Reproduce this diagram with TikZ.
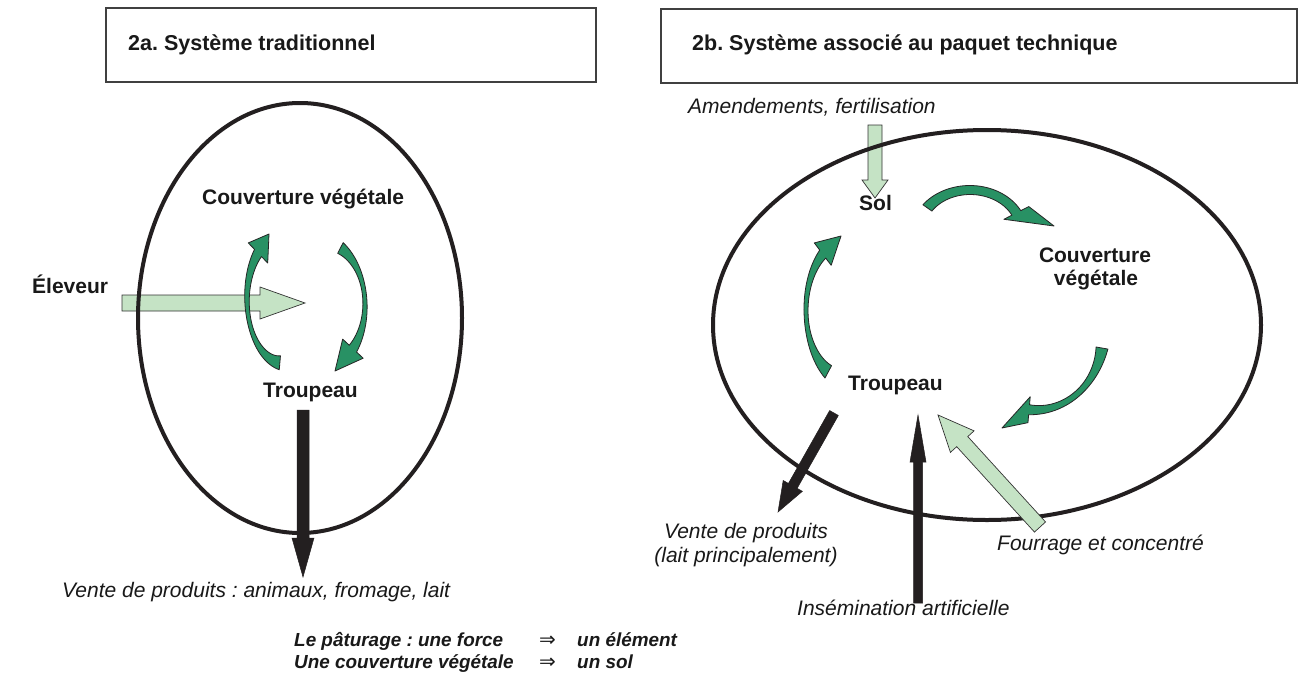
\documentclass[tikz,border=0pt]{standalone}
\usepackage{fontspec}
\setmainfont{Liberation Sans}
\newfontfamily\dejavu{DejaVu Sans}
\usetikzlibrary{calc}
\frenchspacing
\definecolor{lgreen}{RGB}{197,227,197}
\definecolor{mgreen}{RGB}{40,145,100}
\definecolor{ink}{RGB}{35,31,32}
\def\gcx{0}\def\gcy{0}\def\grx{1}\def\gry{1}\def\gTz{0}\def\gTo{90}
\def\gwt{10}\def\gwm{3}\def\gwh{7}\def\ghw{10}
% straight block arrow: #1 style, #2 start, #3 tip, #4 shaft half width, #5 head half width, #6 head length
\newcommand\blockarrow[6][]{%
  \coordinate (ba-h) at ($(#3)!#6!(#2)$);
  \filldraw[#1] ($(#2)!#4!90:(#3)$) -- ($(ba-h)!#4!90:(#3)$) -- ($(ba-h)!#5!90:(#3)$) -- (#3)
    -- ($(ba-h)!#5!-90:(#3)$) -- ($(ba-h)!#4!-90:(#3)$) -- ($(#2)!#4!-90:(#3)$) -- cycle;}
% curved band arrow along an elliptic arc, tip at named coordinate #1
\newcommand\curvearrow[1]{%
  \filldraw[garrow] plot[domain=\gTz:\gTo,samples=40] ({\gcx+(\grx+0.5*gw(\x))*cos(\x)},{\gcy+(\gry+0.5*gw(\x))*sin(\x)})
   -- ({\gcx+(\grx+\ghw)*cos(\gTo)},{\gcy+(\gry+\ghw)*sin(\gTo)})
   -- (#1)
   -- ({\gcx+(\grx-\ghw)*cos(\gTo)},{\gcy+(\gry-\ghw)*sin(\gTo)})
   -- plot[domain=\gTo:\gTz,samples=40] ({\gcx+(\grx-0.5*gw(\x))*cos(\x)},{\gcy+(\gry-0.5*gw(\x))*sin(\x)})
   -- cycle;}
\begin{document}
\begin{tikzpicture}[x=1pt,y=-1pt,
  declare function={gs(\t)=(\t-\gTz)/(\gTo-\gTz);
    gw(\t)=\gwm+(\gwt-\gwm)*max(1-2*gs(\t),0)*max(1-2*gs(\t),0)+(\gwh-\gwm)*max(2*gs(\t)-1,0)*max(2*gs(\t)-1,0);},
  boxline/.style={draw=black!75,line width=1.2pt},
  ellipseline/.style={draw=ink,line width=4pt},
  lightarrow/.style={fill=lgreen,draw=black!80,line width=0.7pt,line join=miter},
  blackarrow/.style={fill=ink,draw=ink,line width=0.5pt,line join=miter},
  garrow/.style={fill=mgreen,draw=black!85,line width=0.8pt,line join=round},
  titlefont/.style={inner sep=0pt,anchor=base west,font=\fontsize{21.5}{25}\selectfont\bfseries,text=black!90},
  blab/.style={inner sep=0pt,anchor=base west,font=\fontsize{21}{25}\selectfont\bfseries,text=black!90},
  ilab/.style={inner sep=0pt,anchor=base west,font=\fontsize{21}{25}\selectfont\itshape,text=black!90},
  bilab/.style={inner sep=0pt,anchor=base west,font=\fontsize{18.9}{22}\selectfont\bfseries\itshape,text=black!90},
  implies/.style={inner sep=0pt,anchor=base west,font=\dejavu\fontsize{20}{22}\selectfont,text=black!90},
]
\useasboundingbox (0,0) rectangle (1298,688);
\fill[white] (0,0) rectangle (1298,688);

% ---- title boxes
\draw[boxline] (106,8) rectangle (596,82);
\draw[boxline] (661,9) rectangle (1297,83);
\node[titlefont] (t2a) at (128,50) {2a. Système traditionnel};
\node[titlefont] (t2b) at (692,50) {2b. Système associé au paquet technique};

% ---- left system
\coordinate (elS) at (122,303);
\coordinate (elT) at (305,303);
\blockarrow[lightarrow]{elS}{elT}{8pt}{16pt}{45pt}
\draw[ellipseline] (300,318) ellipse [x radius=162pt, y radius=215pt];
\coordinate (vlS) at (303,410);
\coordinate (vlT) at (303,577);
\blockarrow[blackarrow]{vlS}{vlT}{6pt}{11pt}{39pt}

% green arc, left (upwards)
\coordinate (tipA) at (269,234);
\def\gcx{283}\def\gcy{299}\def\grx{36}\def\gry{64}\def\gTz{95}\def\gTo{226}
\def\gwt{14}\def\gwm{4}\def\gwh{10}\def\ghw{14}
\curvearrow{tipA}
% green arc, right (downwards)
\coordinate (tipB) at (335,371);
\def\gcx{320}\def\gcy{305}\def\grx{45}\def\gry{64}\def\gTz{-63}\def\gTo{43}
\def\gwt{12}\def\gwm{4}\def\gwh{10}\def\ghw{14}
\curvearrow{tipB}

\node[blab] (couvL) at (202,204) {Couverture végétale};
\node[blab] (troupL) at (263,397) {Troupeau};
\node[blab] (eleveur) at (32,293) {Éleveur};
\node[ilab] (venteL) at (62,597) {Vente de produits : animaux, fromage, lait};

% ---- right system
\coordinate (amS) at (875,125);
\coordinate (amT) at (875,198);
\blockarrow[lightarrow]{amS}{amT}{7pt}{13pt}{18pt}
\draw[ellipseline] (987,325) ellipse [x radius=274pt, y radius=195pt];
\coordinate (frS) at (1040,527);
\coordinate (frT) at (938,415);
\blockarrow[lightarrow]{frS}{frT}{7.5pt}{16pt}{36pt}
\coordinate (vrS) at (834,413);
\coordinate (vrT) at (778,512);
\blockarrow[blackarrow]{vrS}{vrT}{5pt}{11pt}{30pt}
\coordinate (inS) at (918,603);
\coordinate (inT) at (918,415);
\blockarrow[blackarrow]{inS}{inT}{4.5pt}{8pt}{47pt}

% Sol -> Couverture
\coordinate (tipE) at (1054,226);
\def\gcx{970}\def\gcy{232}\def\grx{52}\def\gry{42}\def\gTz{-145}\def\gTo{-27}
\def\gwt{11}\def\gwm{9}\def\gwh{10}\def\ghw{14}
\curvearrow{tipE}
% Couverture -> Troupeau
\coordinate (tipD) at (1002,428);
\def\gcx{1035}\def\gcy{335}\def\grx{68}\def\gry{75}\def\gTz{10}\def\gTo{95}
\def\gwt{12}\def\gwm{6}\def\gwh{10}\def\ghw{13}
\curvearrow{tipD}
% Troupeau -> Sol
\coordinate (tipC) at (841,236);
\def\gcx{848}\def\gcy{310}\def\grx{42}\def\gry{70}\def\gTz{118}\def\gTo{233}
\def\gwt{14}\def\gwm{4}\def\gwh{10}\def\ghw{14}
\curvearrow{tipC}

\node[ilab] (amend) at (688,113) {Amendements, fertilisation};
\node[blab] (sol) at (859,210) {Sol};
\node[blab,anchor=base] (couvR1) at (1095,262) {Couverture};
\node[blab,anchor=base] (couvR2) at (1096,285) {végétale};
\node[blab] (troupR) at (848,390) {Troupeau};
\node[ilab,anchor=base] (venteR1) at (746,538) {Vente de produits};
\node[ilab,anchor=base] (venteR2) at (746,562) {(lait principalement)};
\node[ilab] (fourrage) at (997,550) {Fourrage et concentré};
\node[ilab] (insem) at (797,615) {Insémination artificielle};

% ---- bottom legend
\node[bilab] (leg1a) at (294,646) {Le pâturage : une force};
\node[implies] (leg1b) at (539,646) {⇒};
\node[bilab] (leg1c) at (577,646) {un élément};
\node[bilab] (leg2a) at (294,668) {Une couverture végétale};
\node[implies] (leg2b) at (539,668) {⇒};
\node[bilab] (leg2c) at (577,668) {un sol};
\end{tikzpicture}
\end{document}
